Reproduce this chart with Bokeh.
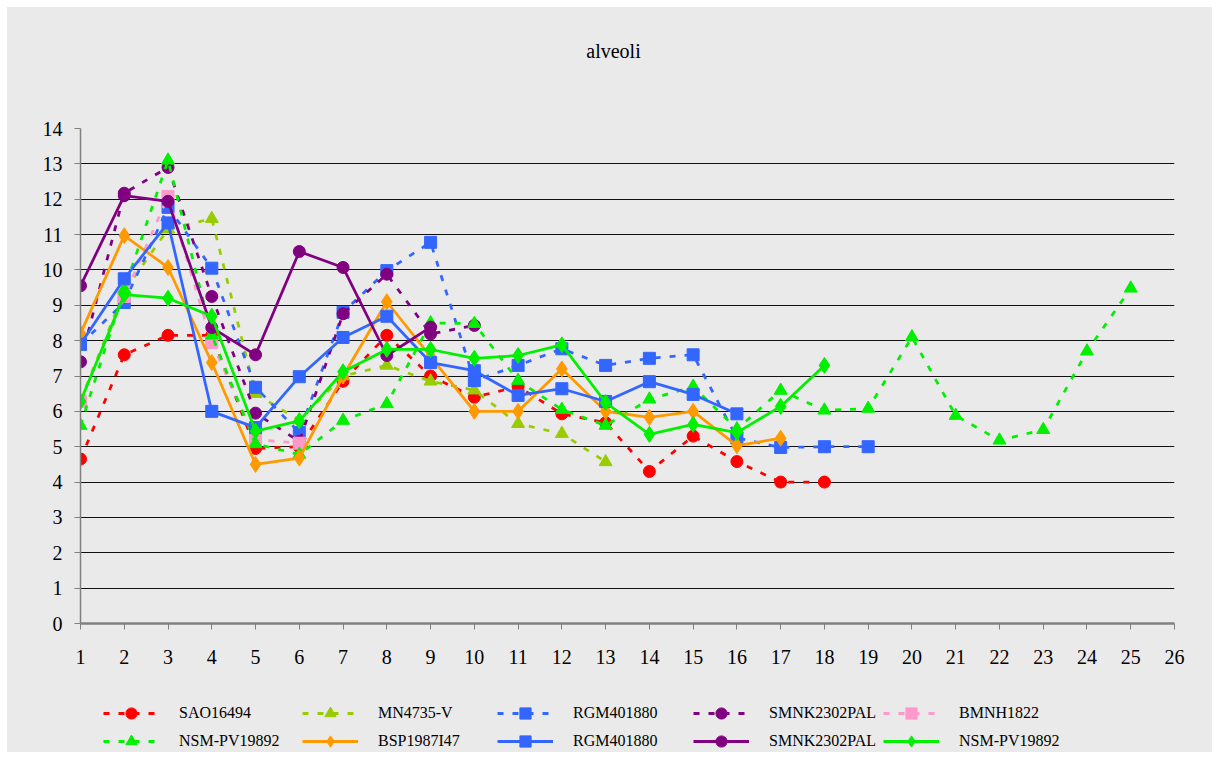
from bokeh.plotting import figure
from bokeh.models import Range1d, FixedTicker, Legend, LegendItem, Label
from bokeh.layouts import column
from bokeh.embed import file_html
from bokeh.resources import INLINE

title_text = "alveoli"
x_ticks = list(range(1, 27))
y_ticks = list(range(0, 15))

sao16494 = [4.65, 7.6, 8.15, 8.15, 4.95, 5.0, 6.85, 8.15, 7.0, 6.4, 6.7, 5.93, 5.68, 4.3, 5.3, 4.58, 4.0, 4.0]
mn4735v = [6.3, 9.4, 11.15, 11.45, 6.5, 5.75, 7.0, 7.3, 6.85, 6.6, 5.65, 5.37, 4.57]
rgm_dashed = [7.9, 9.08, 11.77, 10.05, 6.68, 5.4, 8.8, 9.98, 10.78, 6.87, 7.3, 7.77, 7.3, 7.5, 7.6, 5.25, 4.98, 5.0, 5.0]
smnk_dashed = [7.4, 12.17, 12.9, 9.25, 5.95, 5.15, 8.76, 9.88, 8.19, 8.43]
bmnh1822 = [6.28, 9.25, 12.08, 7.95, 5.2, 5.1]
nsm_dashed = [5.6, 9.45, 13.1, 8.15, 5.08, 4.78, 5.74, 6.21, 8.5, 8.48, 6.87, 6.05, 5.6, 6.34, 6.7, 5.5, 6.59, 6.03, 6.08, 8.1, 5.88, 5.18, 5.48, 7.7, 9.48]
bsp1987i47 = [8.2, 10.97, 10.07, 7.38, 4.5, 4.68, 7.0, 9.1, 7.55, 6.0, 6.0, 7.2, 6.0, 5.83, 6.0, 5.03, 5.24]
rgm_solid = [7.9, 9.75, 11.33, 6.0, 5.54, 6.98, 8.09, 8.69, 7.38, 7.15, 6.45, 6.64, 6.28, 6.84, 6.48, 5.93]
smnk_solid = [9.55, 12.1, 11.94, 8.37, 7.6, 10.52, 10.07, 7.58, 8.38]
nsm_solid = [6.28, 9.3, 9.2, 8.69, 5.44, 5.73, 7.12, 7.75, 7.75, 7.5, 7.58, 7.88, 6.25, 5.35, 5.63, 5.4, 6.14, 7.3]

FONT = "'Liberation Serif', serif"
BG = "#EAEAEA"

# name, values, color, dashed, marker, size
series = [
    ("SAO16494", sao16494, "#FF0000", True, "circle", 12),
    ("MN4735-V", mn4735v, "#99CC00", True, "triangle", 13),
    ("RGM401880", rgm_dashed, "#3366FF", True, "square", 12),
    ("SMNK2302PAL", smnk_dashed, "#800080", True, "circle", 12),
    ("BMNH1822", bmnh1822, "#FF99CC", True, "square", 12),
    ("NSM-PV19892", nsm_dashed, "#00F000", True, "triangle", 13),
    ("BSP1987I47", bsp1987i47, "#FF9900", False, "diamond", 16),
    ("RGM401880", rgm_solid, "#3366FF", False, "square", 12),
    ("SMNK2302PAL", smnk_solid, "#800080", False, "circle", 12),
    ("NSM-PV19892", nsm_solid, "#00F000", False, "diamond", 16),
]

W = 1205
BL, BR = 73, 38
H_TOP, H_MAIN, H_LEG = 70, 611, 64


def strip(h, yr):
    f = figure(width=W, height=h, output_backend="svg", toolbar_location=None,
               x_range=Range1d(1, 26), y_range=yr,
               min_border_left=BL, min_border_right=BR, min_border_top=0, min_border_bottom=0)
    f.axis.visible = False
    f.grid.visible = False
    f.background_fill_alpha = 0
    f.border_fill_color = BG
    f.outline_line_color = None
    return f


# title strip
pt = strip(H_TOP, Range1d(0, H_TOP))
pt.add_layout(Label(x=13.18, y=27, text=title_text, text_align="center", text_baseline="middle",
                    text_font=FONT, text_font_size="20px", text_color="#000000"))

# main chart
p = figure(width=W, height=H_MAIN, output_backend="svg", toolbar_location=None,
           x_range=Range1d(1, 26), y_range=Range1d(0, 14),
           min_border_left=BL, min_border_right=BR, min_border_top=51, min_border_bottom=65)
p.background_fill_color = BG
p.border_fill_color = BG
p.outline_line_color = None

p.xgrid.visible = False
p.ygrid.grid_line_color = "#111111"
p.ygrid.grid_line_width = 1
p.ygrid.ticker = FixedTicker(ticks=y_ticks)

p.xaxis.ticker = FixedTicker(ticks=x_ticks)
p.yaxis.ticker = FixedTicker(ticks=y_ticks)
for ax in (p.xaxis, p.yaxis):
    ax.major_label_text_font = FONT
    ax.major_label_text_font_size = "20px"
    ax.major_label_text_color = "#000000"
    ax.axis_line_color = "#808080"
    ax.major_tick_line_color = "#808080"
    ax.major_tick_in = 0
    ax.major_tick_out = 6
    ax.minor_tick_line_color = None
p.xaxis.axis_line_width = 2.5
p.yaxis.axis_line_width = 1.5
p.xaxis.major_label_standoff = 20
p.yaxis.major_label_standoff = 12

# legend strip (series drawn there too, but outside its visible y range)
pl = strip(H_LEG, Range1d(100, 101))

items = []
for name, vals, color, dashed, marker, size in series:
    xs = list(range(1, len(vals) + 1))
    dash = "6 9" if dashed else "solid"
    p.line(xs, vals, line_color=color, line_width=2.75, line_dash=dash)
    p.scatter(xs, vals, marker=marker, size=size, fill_color=color, line_color=color)
    ln = pl.line(xs, vals, line_color=color, line_width=3, line_dash=dash)
    sc = pl.scatter(xs, vals, marker=marker, size=size, fill_color=color, line_color=color)
    items.append(LegendItem(label=name, renderers=[ln, sc]))

col_x = [23, 222, 417, 613, 803]
for c in range(5):
    lg = Legend(items=[items[c], items[c + 5]], location=(col_x[c], -3),
                orientation="vertical", glyph_width=56, glyph_height=28, label_height=28,
                label_standoff=20, spacing=0, padding=0, margin=0,
                label_text_font=FONT, label_text_font_size="16px", label_text_color="#000000",
                background_fill_alpha=0, border_line_alpha=0)
    pl.add_layout(lg)

layout = column(pt, p, pl, spacing=0, margin=(7, 0, 0, 7), styles={"background-color": BG})
open("out.html", "w").write(file_html(layout, INLINE))
